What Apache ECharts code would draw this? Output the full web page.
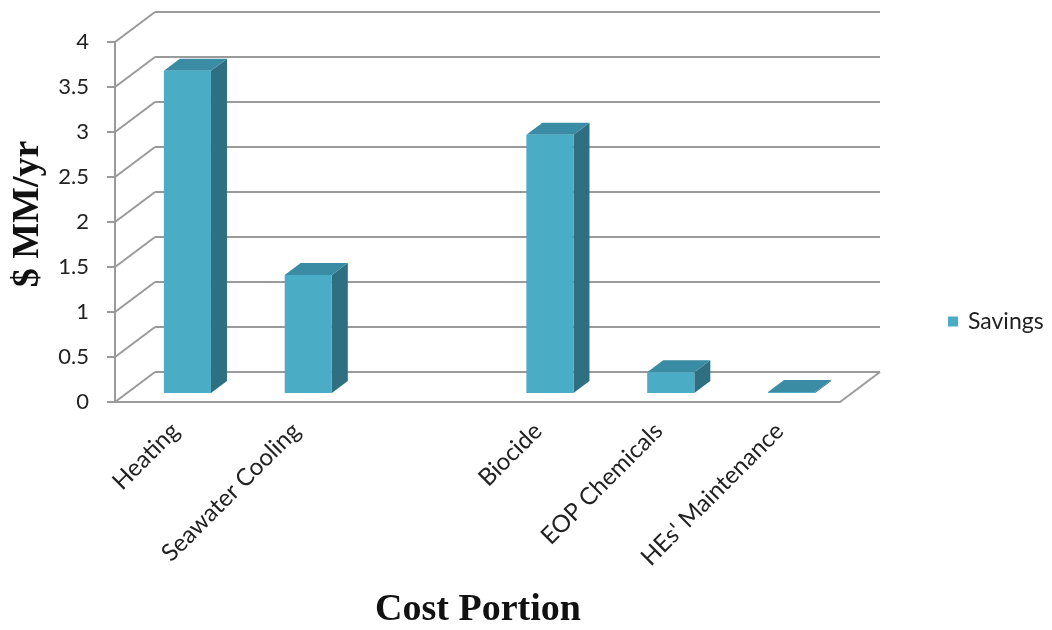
<!DOCTYPE html>
<html>
<head>
<meta charset="utf-8">
<script src="https://cdn.jsdelivr.net/npm/echarts@6/dist/echarts.min.js"></script>
<style>
  html, body { margin: 0; padding: 0; background: #ffffff; }
  #chart { width: 1052px; height: 630px; }
</style>
</head>
<body>
<div id="chart"></div>
<script>
// Savings per cost portion ($ MM/yr); the third slot is an unlabeled gap
const categories = ['Heating', 'Seawater Cooling', '', 'Biocide', 'EOP Chemicals', "HEs' Maintenance"];
const savings = [3.58, 1.31, null, 2.87, 0.23, 0.01];
const yTicks = [0, 0.5, 1, 1.5, 2, 2.5, 3, 3.5, 4];
const seriesName = 'Savings';

// Oblique projection of the box: back wall sits up and to the right of the front plane
const DEPTH_X = 40, DEPTH_Y = -30;
const BAR_FRONT = 0.3;   // bars start 30% into the depth
const BAR_DEPTH = 0.4;   // and occupy 40% of it
const BAR_WIDTH = 0.39;  // fraction of the category band

const FRONT = '#4BACC6', SIDE = '#2F6F82', TOP = '#3A8CA4';
const GRID_COLOR = '#9a9a9a';
const FONT = 'Lato, "Open Sans", "Noto Sans", sans-serif';
const SERIF = '"Liberation Serif", "DejaVu Serif", serif';

const chart = echarts.init(document.getElementById('chart'), null, { renderer: 'canvas' });

const barData = savings.map((v, i) => (v == null ? null : [i, v])).filter(Boolean);

chart.setOption({
  animation: false,
  backgroundColor: '#ffffff',
  legend: {
    data: [seriesName],
    left: 948,
    top: 310,
    padding: 0,
    icon: 'rect',
    itemWidth: 10,
    itemHeight: 10,
    textStyle: { fontFamily: FONT, fontSize: 23, color: '#222', padding: [0, 0, 0, 5] }
  },
  grid: [
    { left: 115, top: 42, width: 725, height: 360 },  // front plane
    { left: 155, top: 12, width: 725, height: 360 }   // back wall
  ],
  xAxis: [
    {
      type: 'category', gridIndex: 0, data: categories,
      axisLine: { show: true, lineStyle: { color: GRID_COLOR, width: 2 } },
      axisTick: { show: false },
      axisLabel: {
        interval: 0, rotate: 45, margin: 25,
        fontFamily: FONT, fontSize: 24, color: '#222'
      },
      splitLine: { show: false }
    },
    {
      type: 'category', gridIndex: 1, data: categories, show: false
    }
  ],
  yAxis: [
    {
      type: 'value', gridIndex: 0, min: 0, max: 4, interval: 0.5,
      axisLine: { show: true, lineStyle: { color: GRID_COLOR, width: 2 } },
      axisTick: { show: true, length: 8, lineStyle: { color: GRID_COLOR, width: 2 } },
      axisLabel: { margin: 26, fontFamily: FONT, fontSize: 22, color: '#222' },
      splitLine: { show: false }
    },
    {
      type: 'value', gridIndex: 1, min: 0, max: 4, interval: 0.5,
      axisLine: { show: false }, axisTick: { show: false }, axisLabel: { show: false },
      splitLine: { show: true, lineStyle: { color: GRID_COLOR, width: 2 } }
    }
  ],
  graphic: [
    {
      type: 'text', rotation: Math.PI / 2,
      x: 28, y: 214,
      style: {
        text: '$ MM/yr', font: 'bold 38px ' + SERIF, fill: '#111',
        align: 'center', verticalAlign: 'middle'
      }
    },
    {
      type: 'text', x: 478, y: 610,
      style: {
        text: 'Cost Portion', font: 'bold 38px ' + SERIF, fill: '#111',
        align: 'center', verticalAlign: 'middle'
      }
    }
  ],
  series: [
    {
      // side-wall and floor edges joining the front plane to the back wall
      type: 'custom', xAxisIndex: 0, yAxisIndex: 0, silent: true, z: 1,
      data: yTicks.map(v => [0, v]),
      renderItem(params, api) {
        const v = api.value(1);
        const y = api.coord([0, v])[1];
        const cs = params.coordSys;
        const children = [{
          type: 'line',
          shape: { x1: cs.x, y1: y, x2: cs.x + DEPTH_X, y2: y + DEPTH_Y },
          style: { stroke: GRID_COLOR, lineWidth: 2 }
        }];
        if (v === 0) {
          children.push({
            type: 'line',
            shape: { x1: cs.x + cs.width, y1: y, x2: cs.x + cs.width + DEPTH_X, y2: y + DEPTH_Y },
            style: { stroke: GRID_COLOR, lineWidth: 2 }
          });
        }
        return { type: 'group', children };
      }
    },
    {
      name: seriesName,
      type: 'custom', xAxisIndex: 0, yAxisIndex: 0, z: 3,
      itemStyle: { color: FRONT },
      data: barData,
      renderItem(params, api) {
        const i = api.value(0), v = api.value(1);
        const top = api.coord([i, v]);
        const base = api.coord([i, 0]);
        const band = api.size([1, 0])[0];
        const w = band * BAR_WIDTH;
        const ox = DEPTH_X * BAR_FRONT, oy = DEPTH_Y * BAR_FRONT;
        const dx = DEPTH_X * BAR_DEPTH, dy = DEPTH_Y * BAR_DEPTH;
        const xl = top[0] - w / 2 + ox, xr = xl + w;
        const yt = top[1] + oy, yb = base[1] + oy;
        return {
          type: 'group',
          children: [
            { type: 'polygon', shape: { points: [[xr, yt], [xr + dx, yt + dy], [xr + dx, yb + dy], [xr, yb]] }, style: { fill: SIDE } },
            { type: 'polygon', shape: { points: [[xl, yt], [xl + dx, yt + dy], [xr + dx, yt + dy], [xr, yt]] }, style: { fill: TOP } },
            { type: 'rect', shape: { x: xl, y: yt, width: w, height: yb - yt }, style: { fill: FRONT } }
          ]
        };
      }
    }
  ]
});
</script>
</body>
</html>
